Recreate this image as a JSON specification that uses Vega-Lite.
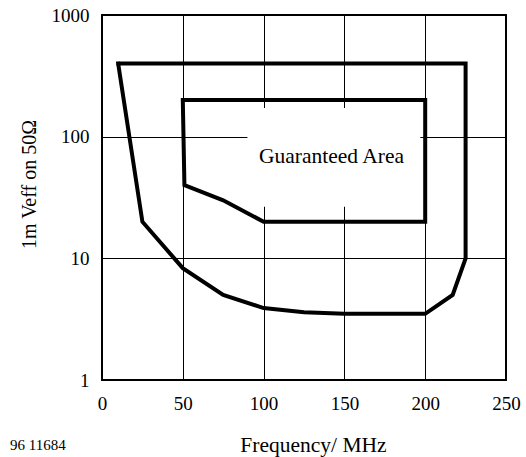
{
  "$schema": "https://vega.github.io/schema/vega-lite/v6.json",
  "width": 404,
  "height": 365,
  "autosize": "none",
  "padding": {"left": 102, "top": 15, "right": 20, "bottom": 77},
  "background": "white",
  "config": {
    "view": {"stroke": "black", "strokeWidth": 2},
    "font": "Liberation Serif, serif",
    "axis": {
      "domain": false,
      "ticks": false,
      "grid": true,
      "gridColor": "black",
      "gridOpacity": 1,
      "gridWidth": 1,
      "labelFlush": false,
      "labelFont": "Liberation Serif, serif",
      "labelFontSize": 19,
      "labelColor": "black",
      "titleFont": "Liberation Serif, serif",
      "titleFontSize": 20,
      "titleFontWeight": "normal",
      "titleColor": "black"
    },
    "title": {"font": "Liberation Serif, serif", "fontWeight": "normal", "color": "black"}
  },
  "title": {"text": "96 11684", "orient": "bottom", "anchor": "start", "frame": "group", "fontSize": 15, "dx": -92, "offset": -18},
  "datasets": {
    "outer": [
      {"f": 10, "v": 400, "o": 1},
      {"f": 225, "v": 400, "o": 2},
      {"f": 225, "v": 10, "o": 3},
      {"f": 217, "v": 5, "o": 4},
      {"f": 200, "v": 3.5, "o": 5},
      {"f": 150, "v": 3.5, "o": 6},
      {"f": 125, "v": 3.6, "o": 7},
      {"f": 100, "v": 3.9, "o": 8},
      {"f": 75, "v": 5, "o": 9},
      {"f": 50, "v": 8.3, "o": 10},
      {"f": 25, "v": 20, "o": 11},
      {"f": 10, "v": 400, "o": 12}
    ],
    "inner": [
      {"f": 50, "v": 200, "o": 1},
      {"f": 200, "v": 200, "o": 2},
      {"f": 200, "v": 20, "o": 3},
      {"f": 100, "v": 20, "o": 4},
      {"f": 75, "v": 30, "o": 5},
      {"f": 51, "v": 40, "o": 6},
      {"f": 50, "v": 200, "o": 7}
    ],
    "box": [{"f1": 90, "f2": 197, "v1": 26.5, "v2": 172}],
    "labels": [{"f": 142, "v": 68, "t": "Guaranteed Area"}]
  },
  "layer": [
    {
      "data": {"name": "box"},
      "mark": {"type": "rect", "fill": "white", "stroke": null},
      "encoding": {
        "x": {"field": "f1", "type": "quantitative", "scale": {"domain": [0, 250], "nice": false}, "axis": {"values": [0, 50, 100, 150, 200, 250], "labelPadding": 14, "title": "Frequency/ MHz", "titleFontSize": 21.5, "titlePadding": 21, "titleX": 211}},
        "x2": {"field": "f2"},
        "y": {"field": "v1", "type": "quantitative", "scale": {"type": "log", "domain": [1, 1000], "nice": false}, "axis": {"values": [1, 10, 100, 1000], "format": "d", "labelPadding": 13, "title": "1m Veff on 50Ω", "titlePadding": 12, "titleY": 169}},
        "y2": {"field": "v2"}
      }
    },
    {
      "data": {"name": "outer"},
      "mark": {"type": "line", "color": "black", "strokeWidth": 4, "strokeJoin": "miter", "strokeCap": "square"},
      "encoding": {
        "x": {"field": "f", "type": "quantitative"},
        "y": {"field": "v", "type": "quantitative"},
        "order": {"field": "o"}
      }
    },
    {
      "data": {"name": "inner"},
      "mark": {"type": "line", "color": "black", "strokeWidth": 4, "strokeJoin": "miter", "strokeCap": "square"},
      "encoding": {
        "x": {"field": "f", "type": "quantitative"},
        "y": {"field": "v", "type": "quantitative"},
        "order": {"field": "o"}
      }
    },
    {
      "data": {"name": "labels"},
      "mark": {"type": "text", "font": "Liberation Serif, serif", "fontSize": 21.5, "color": "black"},
      "encoding": {
        "x": {"field": "f", "type": "quantitative"},
        "y": {"field": "v", "type": "quantitative"},
        "text": {"field": "t"}
      }
    }
  ]
}
